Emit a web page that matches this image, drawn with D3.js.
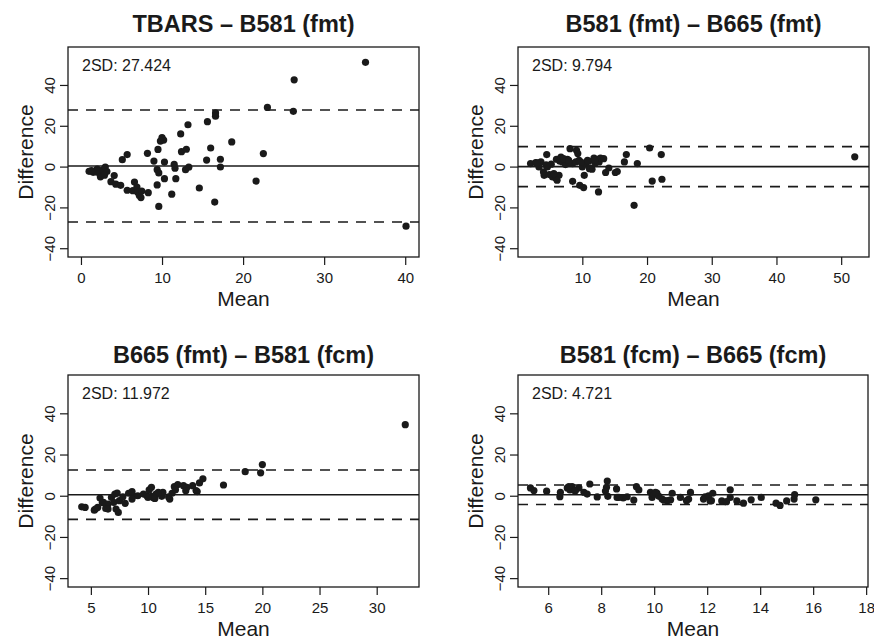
<!DOCTYPE html>
<html>
<head>
<meta charset="utf-8">
<script src="https://cdn.jsdelivr.net/npm/d3@7"></script>
<style>
  body { margin: 0; background: #fff; }
  svg { display: block; font-family: "Liberation Sans", Arial, Helvetica, sans-serif; }
</style>
</head>
<body>
<div id="chart"></div>
<script>
// Panel titles and annotation text
const titles = ["TBARS \u2013 B581 (fmt)", "B581 (fmt) \u2013 B665 (fmt)", "B665 (fmt) \u2013 B581 (fcm)", "B581 (fcm) \u2013 B665 (fcm)"];
const sdLabels = ["2SD: 27.424", "2SD: 9.794", "2SD: 11.972", "2SD: 4.721"];
const twoSD = [27.424, 9.794, 11.972, 4.721];
const meanDiff = [0.3, 0.0, 0.5, 0.5];

// Axis ticks and domains
const xTickValues = [[0, 10, 20, 30, 40], [10, 20, 30, 40, 50], [5, 10, 15, 20, 25, 30], [6, 8, 10, 12, 14, 16, 18]];
const yTickValues = [-40, -20, 0, 20, 40];
const xDomains = [[-1.6, 41.7], [0.06, 54.3], [3.0, 33.7], [4.86, 18.07]];
const yDomain = [-44.3, 58.6];

// [mean, difference] pairs
const tbarsB581fmt = [
  [1.0,-2.3],[1.5,-2.8],[1.9,-2.6],[2.0,-1.2],[2.3,-3.4],[2.4,-5.0],[2.7,-1.6],[3.0,-0.2],[3.2,-2.4],[2.9,-4.2],
  [4.1,-4.4],[3.7,-7.4],[4.3,-8.6],[4.9,-9.2],[5.1,3.4],[5.7,5.9],[5.7,-11.6],[6.6,-7.6],[6.4,-11.8],[6.9,-10.0],
  [7.0,-12.6],[7.2,-14.2],[7.4,-15.2],[7.5,-12.0],[8.3,-12.8],[8.2,6.5],[9.0,2.7],[9.4,-1.5],[9.6,-3.1],[9.4,-9.0],
  [9.6,-19.5],[9.5,8.4],[10.0,14.2],[10.2,13.0],[9.8,12.5],[10.3,2.2],[10.3,-5.9],[11.2,-13.5],[11.5,1.1],[11.6,-0.8],
  [11.7,-5.9],[12.3,16.0],[12.4,7.3],[13.0,8.5],[13.2,20.5],[12.9,-1.5],[13.3,-0.3],[14.6,-10.5],[15.5,3.2],[15.6,22.0],
  [16.0,9.1],[16.5,-17.4],[16.6,26.3],[16.6,24.7],[17.2,3.6],[17.2,-0.2],[18.6,12.1],[21.6,-7.1],[22.5,6.4],[23.0,29.0],
  [26.2,27.1],[26.3,42.5],[35.1,51.1],[40.1,-29.2],[1.3,-2.0]
];
const b581fmtB665fmt = [
  [2.0,1.5],[2.8,2.0],[3.6,2.3],[3.3,-0.2],[4.0,-2.6],[4.5,5.9],[4.6,-0.2],[4.1,-4.3],[4.9,-3.9],[5.4,-5.1],
  [5.9,-5.6],[6.4,-4.3],[6.1,-6.7],[5.6,-3.4],[6.0,3.6],[6.7,4.7],[6.9,2.3],[7.4,1.0],[7.7,3.6],[8.1,8.8],
  [8.5,1.5],[8.5,-7.2],[9.0,2.3],[9.1,8.0],[9.3,6.4],[9.5,3.1],[9.6,-9.2],[10.2,-10.3],[10.0,-0.2],[10.3,-4.3],
  [10.5,1.5],[11.0,2.6],[11.3,-0.7],[11.5,-1.3],[11.8,4.2],[12.3,3.6],[12.6,2.3],[12.8,4.2],[13.3,3.9],[12.5,-12.4],
  [13.6,-2.9],[14.1,-0.7],[15.1,-2.9],[15.4,-2.4],[16.5,2.3],[16.8,5.9],[18.5,1.5],[18.0,-19.0],[20.4,9.1],[20.8,-7.1],
  [22.2,5.9],[22.3,-6.2],[52.1,4.8],[3.0,1.8],[5.2,1.2],[6.5,2.8],[7.1,3.9],[8.0,2.0],[10.8,3.0],[11.1,-1.0],
  [12.0,1.8],[4.4,0.8],[7.9,3.0],[9.8,2.2],[11.9,3.0]
];
const b665fmtB581fcm = [
  [4.2,-5.4],[4.5,-5.7],[5.3,-7.0],[5.6,-5.7],[5.8,-1.1],[6.1,-3.2],[6.5,-4.1],[6.5,-6.5],[6.8,-0.8],[7.1,0.8],
  [7.0,-3.2],[7.2,-6.5],[7.4,-8.1],[7.5,-2.4],[7.8,-0.5],[8.0,-3.7],[8.3,1.2],[8.7,0.0],[9.1,0.0],[9.6,0.8],
  [9.9,0.0],[10.1,2.8],[10.3,-0.3],[10.5,-1.1],[10.7,0.8],[11.2,-0.3],[11.8,-0.6],[12.1,1.2],[12.3,4.4],[12.6,5.4],
  [13.1,4.9],[13.4,4.1],[13.9,4.9],[14.2,2.5],[14.5,6.2],[14.8,8.2],[14.3,2.0],[13.3,2.4],[12.4,2.9],[11.9,-1.6],
  [11.3,1.6],[10.9,1.6],[10.6,-1.3],[10.3,4.1],[10.0,-0.8],[8.6,2.0],[8.6,-1.6],[7.3,1.3],[6.3,-6.2],[6.0,-3.3],
  [5.4,-6.5],[16.6,5.2],[18.5,11.7],[19.85,11.1],[20.0,15.1],[32.5,34.5]
];
const b581fcmB665fcm = [
  [5.33,3.8],[5.46,2.5],[5.94,2.2],[6.44,-0.5],[6.46,1.7],[6.72,3.8],[6.82,2.8],[6.9,4.4],[7.03,2.5],[7.16,3.8],
  [7.35,1.7],[7.47,0.8],[7.57,5.7],[7.85,-0.6],[8.23,7.1],[8.2,4.1],[8.16,2.3],[8.25,-0.3],[8.58,3.3],[8.6,-0.8],
  [8.83,-1.1],[8.98,-0.5],[9.23,-2.1],[9.33,4.4],[9.42,2.8],[9.86,1.7],[9.92,-0.8],[9.99,0.7],[10.1,1.3],[10.18,-0.3],
  [10.3,-1.6],[10.37,-2.2],[10.62,-2.0],[10.68,1.2],[10.99,-0.8],[11.3,-1.6],[11.22,-2.4],[11.37,1.6],[11.86,-1.6],[11.92,-0.5],
  [12.05,0.0],[12.21,1.2],[12.11,-2.5],[12.55,-2.5],[12.87,2.9],[12.87,-0.8],[13.12,-2.5],[13.37,-3.6],[13.66,-2.0],[14.04,-0.8],
  [14.6,-3.6],[14.75,-4.7],[15.0,-2.5],[15.28,-1.6],[15.3,0.5],[16.1,-2.0],[6.78,4.4],[7.0,2.4],[8.67,-0.8],[10.05,1.6],
  [10.5,-2.4],[12.16,-2.4],[12.73,-2.9]
];
const panelData = [tbarsB581fmt, b581fmtB665fmt, b665fmtB581fcm, b581fcmB665fcm];

// Layout of each plot box
const width = 874, height = 641;
const boxes = [
  {x0: 68, x1: 419, y0: 47, y1: 257, titleY: 32},
  {x0: 518, x1: 869, y0: 47, y1: 257, titleY: 32},
  {x0: 68, x1: 419, y0: 375, y1: 587, titleY: 363},
  {x0: 518, x1: 868, y0: 375, y1: 587, titleY: 363}
];

const svg = d3.select("#chart").append("svg")
  .attr("width", width)
  .attr("height", height)
  .attr("viewBox", [0, 0, width, height]);

boxes.forEach((b, i) => {
  const x = d3.scaleLinear().domain(xDomains[i]).range([b.x0, b.x1]);
  const y = d3.scaleLinear().domain(yDomain).range([b.y1, b.y0]);
  const g = svg.append("g");

  // Title
  g.append("text")
    .attr("x", (b.x0 + b.x1) / 2)
    .attr("y", b.titleY)
    .attr("text-anchor", "middle")
    .style("font-size", "23.5px")
    .style("font-weight", "bold")
    .attr("fill", "#1a1a1a")
    .text(titles[i]);

  // Mean and +-2SD lines
  g.append("line")
    .attr("x1", b.x0).attr("x2", b.x1)
    .attr("y1", y(meanDiff[i])).attr("y2", y(meanDiff[i]))
    .attr("stroke", "#1a1a1a").attr("stroke-width", 1.6);
  [meanDiff[i] + twoSD[i], meanDiff[i] - twoSD[i]].forEach(v => {
    g.append("line")
      .attr("x1", b.x0).attr("x2", b.x1)
      .attr("y1", y(v)).attr("y2", y(v))
      .attr("stroke", "#1a1a1a").attr("stroke-width", 1.6)
      .attr("stroke-dasharray", "10,8");
  });

  // Points
  g.append("g").selectAll("circle")
    .data(panelData[i])
    .join("circle")
    .attr("cx", d => x(d[0]))
    .attr("cy", d => y(d[1]))
    .attr("r", 3.6)
    .attr("fill", "#1a1a1a");

  // Box
  g.append("rect")
    .attr("x", b.x0).attr("y", b.y0)
    .attr("width", b.x1 - b.x0).attr("height", b.y1 - b.y0)
    .attr("fill", "none").attr("stroke", "#1a1a1a").attr("stroke-width", 1.3);

  // x axis
  const xAxis = g.append("g")
    .attr("transform", `translate(0,${b.y1})`)
    .call(d3.axisBottom(x).tickValues(xTickValues[i]).tickSize(8).tickSizeOuter(0).tickFormat(d3.format("d")));
  xAxis.select(".domain").remove();
  xAxis.selectAll(".tick line").attr("stroke", "#1a1a1a").attr("stroke-width", 1.2);
  xAxis.selectAll(".tick text")
    .attr("y", 26).attr("dy", null)
    .attr("fill", "#1a1a1a")
    .style("font-size", "15px").style("font-family", "inherit");

  // y axis, labels parallel to the axis
  const yAxis = g.append("g")
    .attr("transform", `translate(${b.x0},0)`)
    .call(d3.axisLeft(y).tickValues(yTickValues).tickSize(8).tickSizeOuter(0).tickFormat(d => d < 0 ? "\u2212" + Math.abs(d) : d));
  yAxis.select(".domain").remove();
  yAxis.selectAll(".tick line").attr("stroke", "#1a1a1a").attr("stroke-width", 1.2);
  yAxis.selectAll(".tick text")
    .attr("x", null).attr("dy", null)
    .attr("transform", "translate(-13,0) rotate(-90)")
    .attr("text-anchor", "middle")
    .attr("fill", "#1a1a1a")
    .style("font-size", "15px").style("font-family", "inherit");

  // Axis labels
  g.append("text")
    .attr("x", (b.x0 + b.x1) / 2)
    .attr("y", b.y1 + 49)
    .attr("text-anchor", "middle")
    .style("font-size", "21px")
    .attr("fill", "#1a1a1a")
    .text("Mean");
  g.append("text")
    .attr("transform", `translate(${b.x0 - 35},${(b.y0 + b.y1) / 2}) rotate(-90)`)
    .attr("text-anchor", "middle")
    .style("font-size", "21px")
    .attr("fill", "#1a1a1a")
    .text("Difference");

  // 2SD annotation
  g.append("text")
    .attr("x", b.x0 + 14)
    .attr("y", b.y0 + 24)
    .style("font-size", "16px")
    .attr("fill", "#1a1a1a")
    .text(sdLabels[i]);
});
</script>
</body>
</html>
